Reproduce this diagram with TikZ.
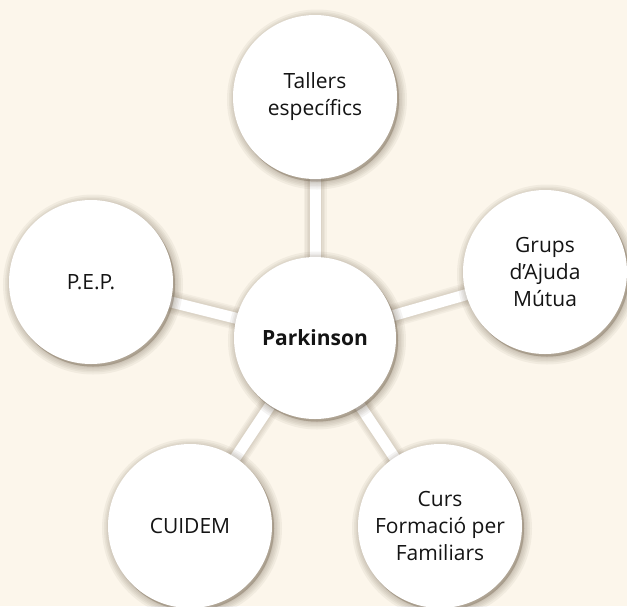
\documentclass[tikz,border=0pt]{standalone}
\usepackage{fontspec}
\setmainfont{Open Sans}
\pgfdeclarelayer{bg}
\pgfdeclarelayer{conn}
\pgfsetlayers{bg,conn,main}
\definecolor{cream}{RGB}{252,246,235}
\definecolor{txt}{RGB}{20,20,20}
\definecolor{shade}{RGB}{110,95,75}
\begin{document}
\begin{tikzpicture}[x=1pt,y=1pt,
  sh/.style={preaction={draw=shade, draw opacity=0.07, fill=shade, fill opacity=0.07,
      line width=#1, transform canvas={shift={(2pt,-2.5pt)}}}},
  bubble/.style={circle, fill=white, minimum size=164pt, inner sep=0pt,
    align=center, font=\fontsize{21}{27}\selectfont, text=txt,
    sh=16pt, sh=12pt, sh=9pt, sh=6pt, sh=3pt, sh=1pt},
  lsh/.style={preaction={draw=shade, draw opacity=0.06, line width=#1}},
  link/.style={draw=white, line width=11pt, lsh=23pt, lsh=20pt, lsh=17pt, lsh=14pt}]
\useasboundingbox (0,0) rectangle (627,-606);
\begin{pgfonlayer}{bg}
  \fill[cream] (0,0) rectangle (627,-606);
\end{pgfonlayer}
\clip (0,0) rectangle (627,-606);
\node[bubble] (T) at (315,-97) {Tallers\\específics};
\node[bubble] (G) at (545,-272) {Grups\\d’Ajuda\\Mútua};
\node[bubble] (E) at (91,-282) {P.E.P.};
\node[bubble] (C) at (190,-526) {CUIDEM};
\node[bubble] (F) at (440,-526) {Curs\\Formació per\\Familiars};
\node[bubble, minimum size=162pt, font=\fontsize{21}{27}\selectfont\bfseries] (P) at (315,-338) {Parkinson};
\begin{pgfonlayer}{conn}
  \draw[link] (P.center) -- (T.center);
  \draw[link] (P.center) -- (G.center);
  \draw[link] (P.center) -- (E.center);
  \draw[link] (P.center) -- (C.center);
  \draw[link] (P.center) -- (F.center);
\end{pgfonlayer}
\end{tikzpicture}
\end{document}
